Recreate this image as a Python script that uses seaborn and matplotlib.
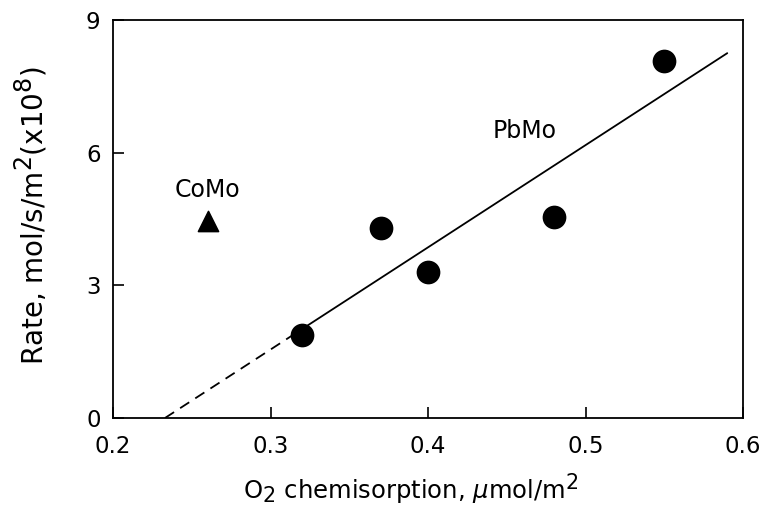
import matplotlib
matplotlib.use("Agg")
import matplotlib.pyplot as plt
import matplotlib._mathtext as _mt
import seaborn as sns
import pandas as pd

# Data
pbmo_x = [0.32, 0.37, 0.40, 0.48, 0.55]
pbmo_y = [1.88, 4.30, 3.30, 4.55, 8.08]
como_x = [0.26]
como_y = [4.46]
fit_dash_x = [0.233, 0.32]
fit_dash_y = [0.0, 2.01]
fit_solid_x = [0.32, 0.59]
fit_solid_y = [2.01, 8.25]
xticks = [0.2, 0.3, 0.4, 0.5, 0.6]
yticks = [0, 3, 6, 9]

# larger sub/superscripts, as in the reference
_mt.SHRINK_FACTOR = 0.85

sns.set_theme(style="white")
plt.rcParams['font.family'] = ['DejaVu Sans']
plt.rcParams['mathtext.fontset'] = 'dejavusans'
plt.rcParams['text.color'] = 'black'
plt.rcParams['axes.labelcolor'] = 'black'

FS = 16.5

fig = plt.figure(figsize=(7.7, 5.16), dpi=100)
ax = fig.add_axes([113/770, 1 - 418/516, 630/770, 398/516])

df_p = pd.DataFrame({"x": pbmo_x, "y": pbmo_y})
df_c = pd.DataFrame({"x": como_x, "y": como_y})
df_d = pd.DataFrame({"x": fit_dash_x, "y": fit_dash_y})
df_s = pd.DataFrame({"x": fit_solid_x, "y": fit_solid_y})

sns.lineplot(data=df_d, x="x", y="y", ax=ax, color="black", lw=1.3,
             linestyle=(0, (6, 4)), estimator=None, sort=False)
sns.lineplot(data=df_s, x="x", y="y", ax=ax, color="black", lw=1.3,
             estimator=None, sort=False)
sns.scatterplot(data=df_p, x="x", y="y", ax=ax, color="black", s=250,
                marker="o", edgecolor="black", zorder=5)
sns.scatterplot(data=df_c, x="x", y="y", ax=ax, color="black", s=210,
                marker="^", edgecolor="black", zorder=5)

ax.text(0.26, 5.16, "CoMo", ha="center", va="center", fontsize=FS + 0.5)
ax.text(0.4616, 6.49, "PbMo", ha="center", va="center", fontsize=FS + 0.5)

ax.set_xlim(0.2, 0.6)
ax.set_ylim(0, 9)
ax.set_xticks(xticks)
ax.set_xticklabels(["0.2", "0.3", "0.4", "0.5", "0.6"])
ax.set_yticks(yticks)
ax.set_yticklabels(["0", "3", "6", "9"])
ax.tick_params(axis="both", direction="in", length=8, width=1.2,
               labelsize=FS, colors="black",
               bottom=True, left=True, top=False, right=False)
ax.tick_params(axis="x", pad=12)
ax.tick_params(axis="y", pad=9)
for sp in ax.spines.values():
    sp.set_color("black")
    sp.set_linewidth(1.3)

ax.set_xlabel(r"O$_2$ chemisorption, $\mu$mol/m$^2$", fontsize=17.5)
ax.set_ylabel(r"Rate, mol/s/m$^2$(x10$^8$)", fontsize=20)
ax.xaxis.set_label_coords((411 - 113) / 630, -(489 - 418) / 398, transform=ax.transAxes)
ax.yaxis.set_label_coords(-(113 - 31) / 630, 0.51, transform=ax.transAxes)
ax.xaxis.label.set_va("center")
ax.yaxis.label.set_va("center")

fig.savefig("out.png", dpi=100)
